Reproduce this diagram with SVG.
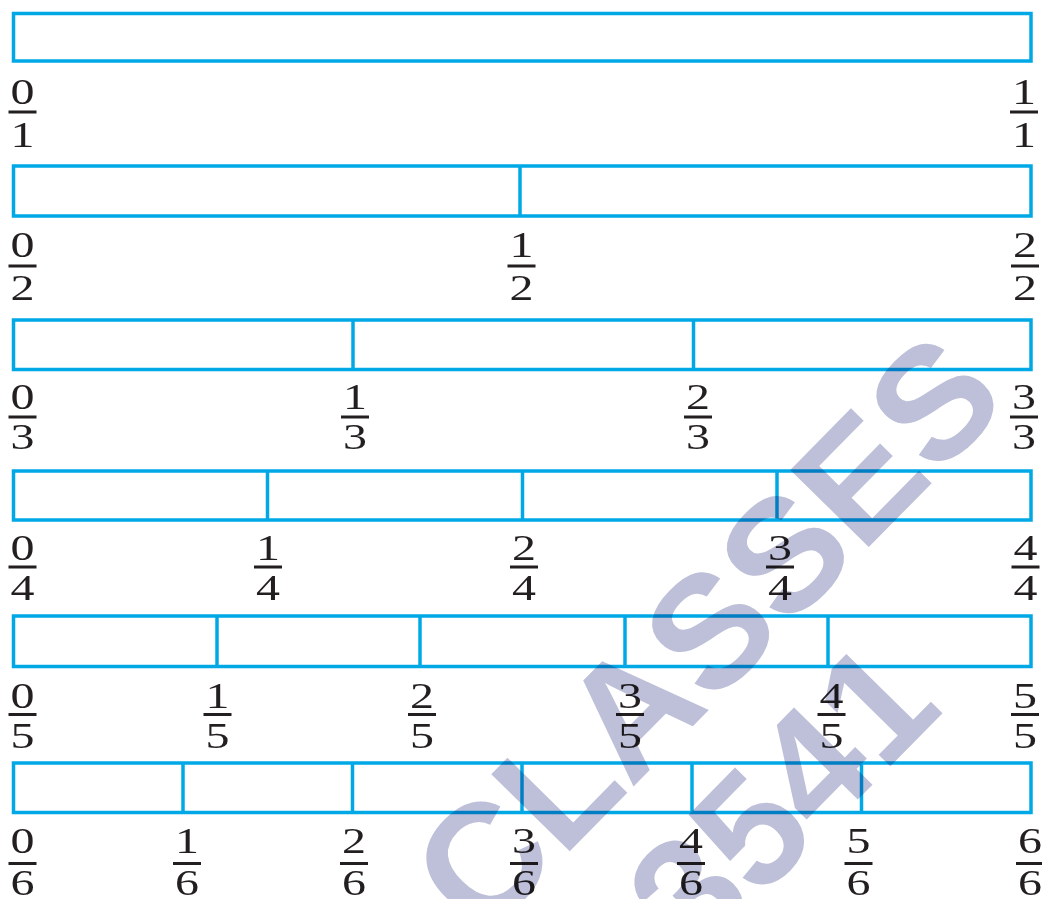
<svg xmlns="http://www.w3.org/2000/svg" width="1042" height="899" viewBox="0 0 1042 899">
<style>
.bar{fill:none;stroke:#00a8e6;stroke-width:3.5}
.div{stroke:#00a8e6;stroke-width:3.5}
.d{font-family:"Liberation Serif","Times New Roman",serif;font-size:35px;fill:#231f20;text-anchor:middle}
.fl{fill:#231f20}
.wm{font-family:"Liberation Sans",Arial,sans-serif;font-weight:bold;font-size:160px;fill:#bdc0d8;text-anchor:middle;mix-blend-mode:multiply}
</style>
<rect width="1042" height="899" fill="#fff"/>

<g id="bar-1">
<rect class="bar" x="13.5" y="13.5" width="1017.5" height="47.5"/>
</g>
<g id="bar-2">
<rect class="bar" x="13.5" y="166" width="1017.5" height="50"/>
<line class="div" x1="520" y1="166" x2="520" y2="216"/>
</g>
<g id="bar-3">
<rect class="bar" x="13.5" y="320" width="1017.5" height="49.5"/>
<line class="div" x1="353" y1="320" x2="353" y2="369.5"/>
<line class="div" x1="693.5" y1="320" x2="693.5" y2="369.5"/>
</g>
<g id="bar-4">
<rect class="bar" x="13.5" y="471" width="1017.5" height="49"/>
<line class="div" x1="267.5" y1="471" x2="267.5" y2="520"/>
<line class="div" x1="522.5" y1="471" x2="522.5" y2="520"/>
<line class="div" x1="777" y1="471" x2="777" y2="520"/>
</g>
<g id="bar-5">
<rect class="bar" x="13.5" y="616" width="1017.5" height="50.5"/>
<line class="div" x1="217" y1="616" x2="217" y2="666.5"/>
<line class="div" x1="420" y1="616" x2="420" y2="666.5"/>
<line class="div" x1="625" y1="616" x2="625" y2="666.5"/>
<line class="div" x1="828" y1="616" x2="828" y2="666.5"/>
</g>
<g id="bar-6">
<rect class="bar" x="13.5" y="763" width="1017.5" height="49.5"/>
<line class="div" x1="183" y1="763" x2="183" y2="812.5"/>
<line class="div" x1="352.5" y1="763" x2="352.5" y2="812.5"/>
<line class="div" x1="522" y1="763" x2="522" y2="812.5"/>
<line class="div" x1="692" y1="763" x2="692" y2="812.5"/>
<line class="div" x1="861.5" y1="763" x2="861.5" y2="812.5"/>
</g>

<!-- row 1 labels -->
<g id="f-0-1" transform="translate(22.5,0)"><text class="d" x="0" y="104" textLength="24" lengthAdjust="spacingAndGlyphs">0</text><rect class="fl" x="-14" y="110.5" width="28" height="3"/><text class="d" x="0" y="147" textLength="24" lengthAdjust="spacingAndGlyphs">1</text></g>
<g id="f-1-1" transform="translate(1024,0)"><text class="d" x="0" y="104" textLength="24" lengthAdjust="spacingAndGlyphs">1</text><rect class="fl" x="-14" y="110.5" width="28" height="3"/><text class="d" x="0" y="147" textLength="24" lengthAdjust="spacingAndGlyphs">1</text></g>

<!-- row 2: B=216 -->
<g id="f-0-2" transform="translate(22.5,216)"><text class="d" x="0" y="41" textLength="24" lengthAdjust="spacingAndGlyphs">0</text><rect class="fl" x="-14" y="48.5" width="28" height="3"/><text class="d" x="0" y="83.5" textLength="24" lengthAdjust="spacingAndGlyphs">2</text></g>
<g id="f-1-2" transform="translate(521.5,216)"><text class="d" x="0" y="41" textLength="24" lengthAdjust="spacingAndGlyphs">1</text><rect class="fl" x="-14" y="48.5" width="28" height="3"/><text class="d" x="0" y="83.5" textLength="24" lengthAdjust="spacingAndGlyphs">2</text></g>
<g id="f-2-2" transform="translate(1025,216)"><text class="d" x="0" y="41" textLength="24" lengthAdjust="spacingAndGlyphs">2</text><rect class="fl" x="-14" y="48.5" width="28" height="3"/><text class="d" x="0" y="83.5" textLength="24" lengthAdjust="spacingAndGlyphs">2</text></g>

<!-- row 3: B=369.5 -->
<g id="f-0-3" transform="translate(22.5,369.5)"><text class="d" x="0" y="39.5" textLength="24" lengthAdjust="spacingAndGlyphs">0</text><rect class="fl" x="-14" y="46" width="28" height="3"/><text class="d" x="0" y="79" textLength="24" lengthAdjust="spacingAndGlyphs">3</text></g>
<g id="f-1-3" transform="translate(355,369.5)"><text class="d" x="0" y="39.5" textLength="24" lengthAdjust="spacingAndGlyphs">1</text><rect class="fl" x="-14" y="46" width="28" height="3"/><text class="d" x="0" y="79" textLength="24" lengthAdjust="spacingAndGlyphs">3</text></g>
<g id="f-2-3" transform="translate(698,369.5)"><text class="d" x="0" y="39.5" textLength="24" lengthAdjust="spacingAndGlyphs">2</text><rect class="fl" x="-14" y="46" width="28" height="3"/><text class="d" x="0" y="79" textLength="24" lengthAdjust="spacingAndGlyphs">3</text></g>
<g id="f-3-3" transform="translate(1024,369.5)"><text class="d" x="0" y="39.5" textLength="24" lengthAdjust="spacingAndGlyphs">3</text><rect class="fl" x="-14" y="46" width="28" height="3"/><text class="d" x="0" y="79" textLength="24" lengthAdjust="spacingAndGlyphs">3</text></g>

<!-- row 4: B=520 -->
<g id="f-0-4" transform="translate(22.5,520)"><text class="d" x="0" y="40" textLength="24" lengthAdjust="spacingAndGlyphs">0</text><rect class="fl" x="-14" y="45.5" width="28" height="3"/><text class="d" x="0" y="80" textLength="24" lengthAdjust="spacingAndGlyphs">4</text></g>
<g id="f-1-4" transform="translate(268,520)"><text class="d" x="0" y="40" textLength="24" lengthAdjust="spacingAndGlyphs">1</text><rect class="fl" x="-14" y="45.5" width="28" height="3"/><text class="d" x="0" y="80" textLength="24" lengthAdjust="spacingAndGlyphs">4</text></g>
<g id="f-2-4" transform="translate(524,520)"><text class="d" x="0" y="40" textLength="24" lengthAdjust="spacingAndGlyphs">2</text><rect class="fl" x="-14" y="45.5" width="28" height="3"/><text class="d" x="0" y="80" textLength="24" lengthAdjust="spacingAndGlyphs">4</text></g>
<g id="f-3-4" transform="translate(780,520)"><text class="d" x="0" y="40" textLength="24" lengthAdjust="spacingAndGlyphs">3</text><rect class="fl" x="-14" y="45.5" width="28" height="3"/><text class="d" x="0" y="80" textLength="24" lengthAdjust="spacingAndGlyphs">4</text></g>
<g id="f-4-4" transform="translate(1025.5,520)"><text class="d" x="0" y="40" textLength="24" lengthAdjust="spacingAndGlyphs">4</text><rect class="fl" x="-14" y="45.5" width="28" height="3"/><text class="d" x="0" y="80" textLength="24" lengthAdjust="spacingAndGlyphs">4</text></g>

<!-- row 5: B=666.5 -->
<g id="f-0-5" transform="translate(22.5,666.5)"><text class="d" x="0" y="41.5" textLength="24" lengthAdjust="spacingAndGlyphs">0</text><rect class="fl" x="-14" y="46.5" width="28" height="3"/><text class="d" x="0" y="81.5" textLength="24" lengthAdjust="spacingAndGlyphs">5</text></g>
<g id="f-1-5" transform="translate(217.5,666.5)"><text class="d" x="0" y="41.5" textLength="24" lengthAdjust="spacingAndGlyphs">1</text><rect class="fl" x="-14" y="46.5" width="28" height="3"/><text class="d" x="0" y="81.5" textLength="24" lengthAdjust="spacingAndGlyphs">5</text></g>
<g id="f-2-5" transform="translate(422,666.5)"><text class="d" x="0" y="41.5" textLength="24" lengthAdjust="spacingAndGlyphs">2</text><rect class="fl" x="-14" y="46.5" width="28" height="3"/><text class="d" x="0" y="81.5" textLength="24" lengthAdjust="spacingAndGlyphs">5</text></g>
<g id="f-3-5" transform="translate(630,666.5)"><text class="d" x="0" y="41.5" textLength="24" lengthAdjust="spacingAndGlyphs">3</text><rect class="fl" x="-14" y="46.5" width="28" height="3"/><text class="d" x="0" y="81.5" textLength="24" lengthAdjust="spacingAndGlyphs">5</text></g>
<g id="f-4-5" transform="translate(831.5,666.5)"><text class="d" x="0" y="41.5" textLength="24" lengthAdjust="spacingAndGlyphs">4</text><rect class="fl" x="-14" y="46.5" width="28" height="3"/><text class="d" x="0" y="81.5" textLength="24" lengthAdjust="spacingAndGlyphs">5</text></g>
<g id="f-5-5" transform="translate(1025,666.5)"><text class="d" x="0" y="41.5" textLength="24" lengthAdjust="spacingAndGlyphs">5</text><rect class="fl" x="-14" y="46.5" width="28" height="3"/><text class="d" x="0" y="81.5" textLength="24" lengthAdjust="spacingAndGlyphs">5</text></g>

<!-- row 6: B=812.5 -->
<g id="f-0-6" transform="translate(22.5,812.5)"><text class="d" x="0" y="40.5" textLength="24" lengthAdjust="spacingAndGlyphs">0</text><rect class="fl" x="-14" y="49.5" width="28" height="3"/><text class="d" x="0" y="82.5" textLength="24" lengthAdjust="spacingAndGlyphs">6</text></g>
<g id="f-1-6" transform="translate(187,812.5)"><text class="d" x="0" y="40.5" textLength="24" lengthAdjust="spacingAndGlyphs">1</text><rect class="fl" x="-14" y="49.5" width="28" height="3"/><text class="d" x="0" y="82.5" textLength="24" lengthAdjust="spacingAndGlyphs">6</text></g>
<g id="f-2-6" transform="translate(354,812.5)"><text class="d" x="0" y="40.5" textLength="24" lengthAdjust="spacingAndGlyphs">2</text><rect class="fl" x="-14" y="49.5" width="28" height="3"/><text class="d" x="0" y="82.5" textLength="24" lengthAdjust="spacingAndGlyphs">6</text></g>
<g id="f-3-6" transform="translate(524,812.5)"><text class="d" x="0" y="40.5" textLength="24" lengthAdjust="spacingAndGlyphs">3</text><rect class="fl" x="-14" y="49.5" width="28" height="3"/><text class="d" x="0" y="82.5" textLength="24" lengthAdjust="spacingAndGlyphs">6</text></g>
<g id="f-4-6" transform="translate(691,812.5)"><text class="d" x="0" y="40.5" textLength="24" lengthAdjust="spacingAndGlyphs">4</text><rect class="fl" x="-14" y="49.5" width="28" height="3"/><text class="d" x="0" y="82.5" textLength="24" lengthAdjust="spacingAndGlyphs">6</text></g>
<g id="f-5-6" transform="translate(858.5,812.5)"><text class="d" x="0" y="40.5" textLength="24" lengthAdjust="spacingAndGlyphs">5</text><rect class="fl" x="-14" y="49.5" width="28" height="3"/><text class="d" x="0" y="82.5" textLength="24" lengthAdjust="spacingAndGlyphs">6</text></g>
<g id="f-6-6" transform="translate(1030,812.5)"><text class="d" x="0" y="40.5" textLength="24" lengthAdjust="spacingAndGlyphs">6</text><rect class="fl" x="-14" y="49.5" width="28" height="3"/><text class="d" x="0" y="82.5" textLength="24" lengthAdjust="spacingAndGlyphs">6</text></g>

<g id="watermark">
<text class="wm" transform="translate(746,672) rotate(-45.5)">CLASSES</text>
<text class="wm" transform="translate(821,837) rotate(-45.5)">3541</text>
</g>
</svg>
